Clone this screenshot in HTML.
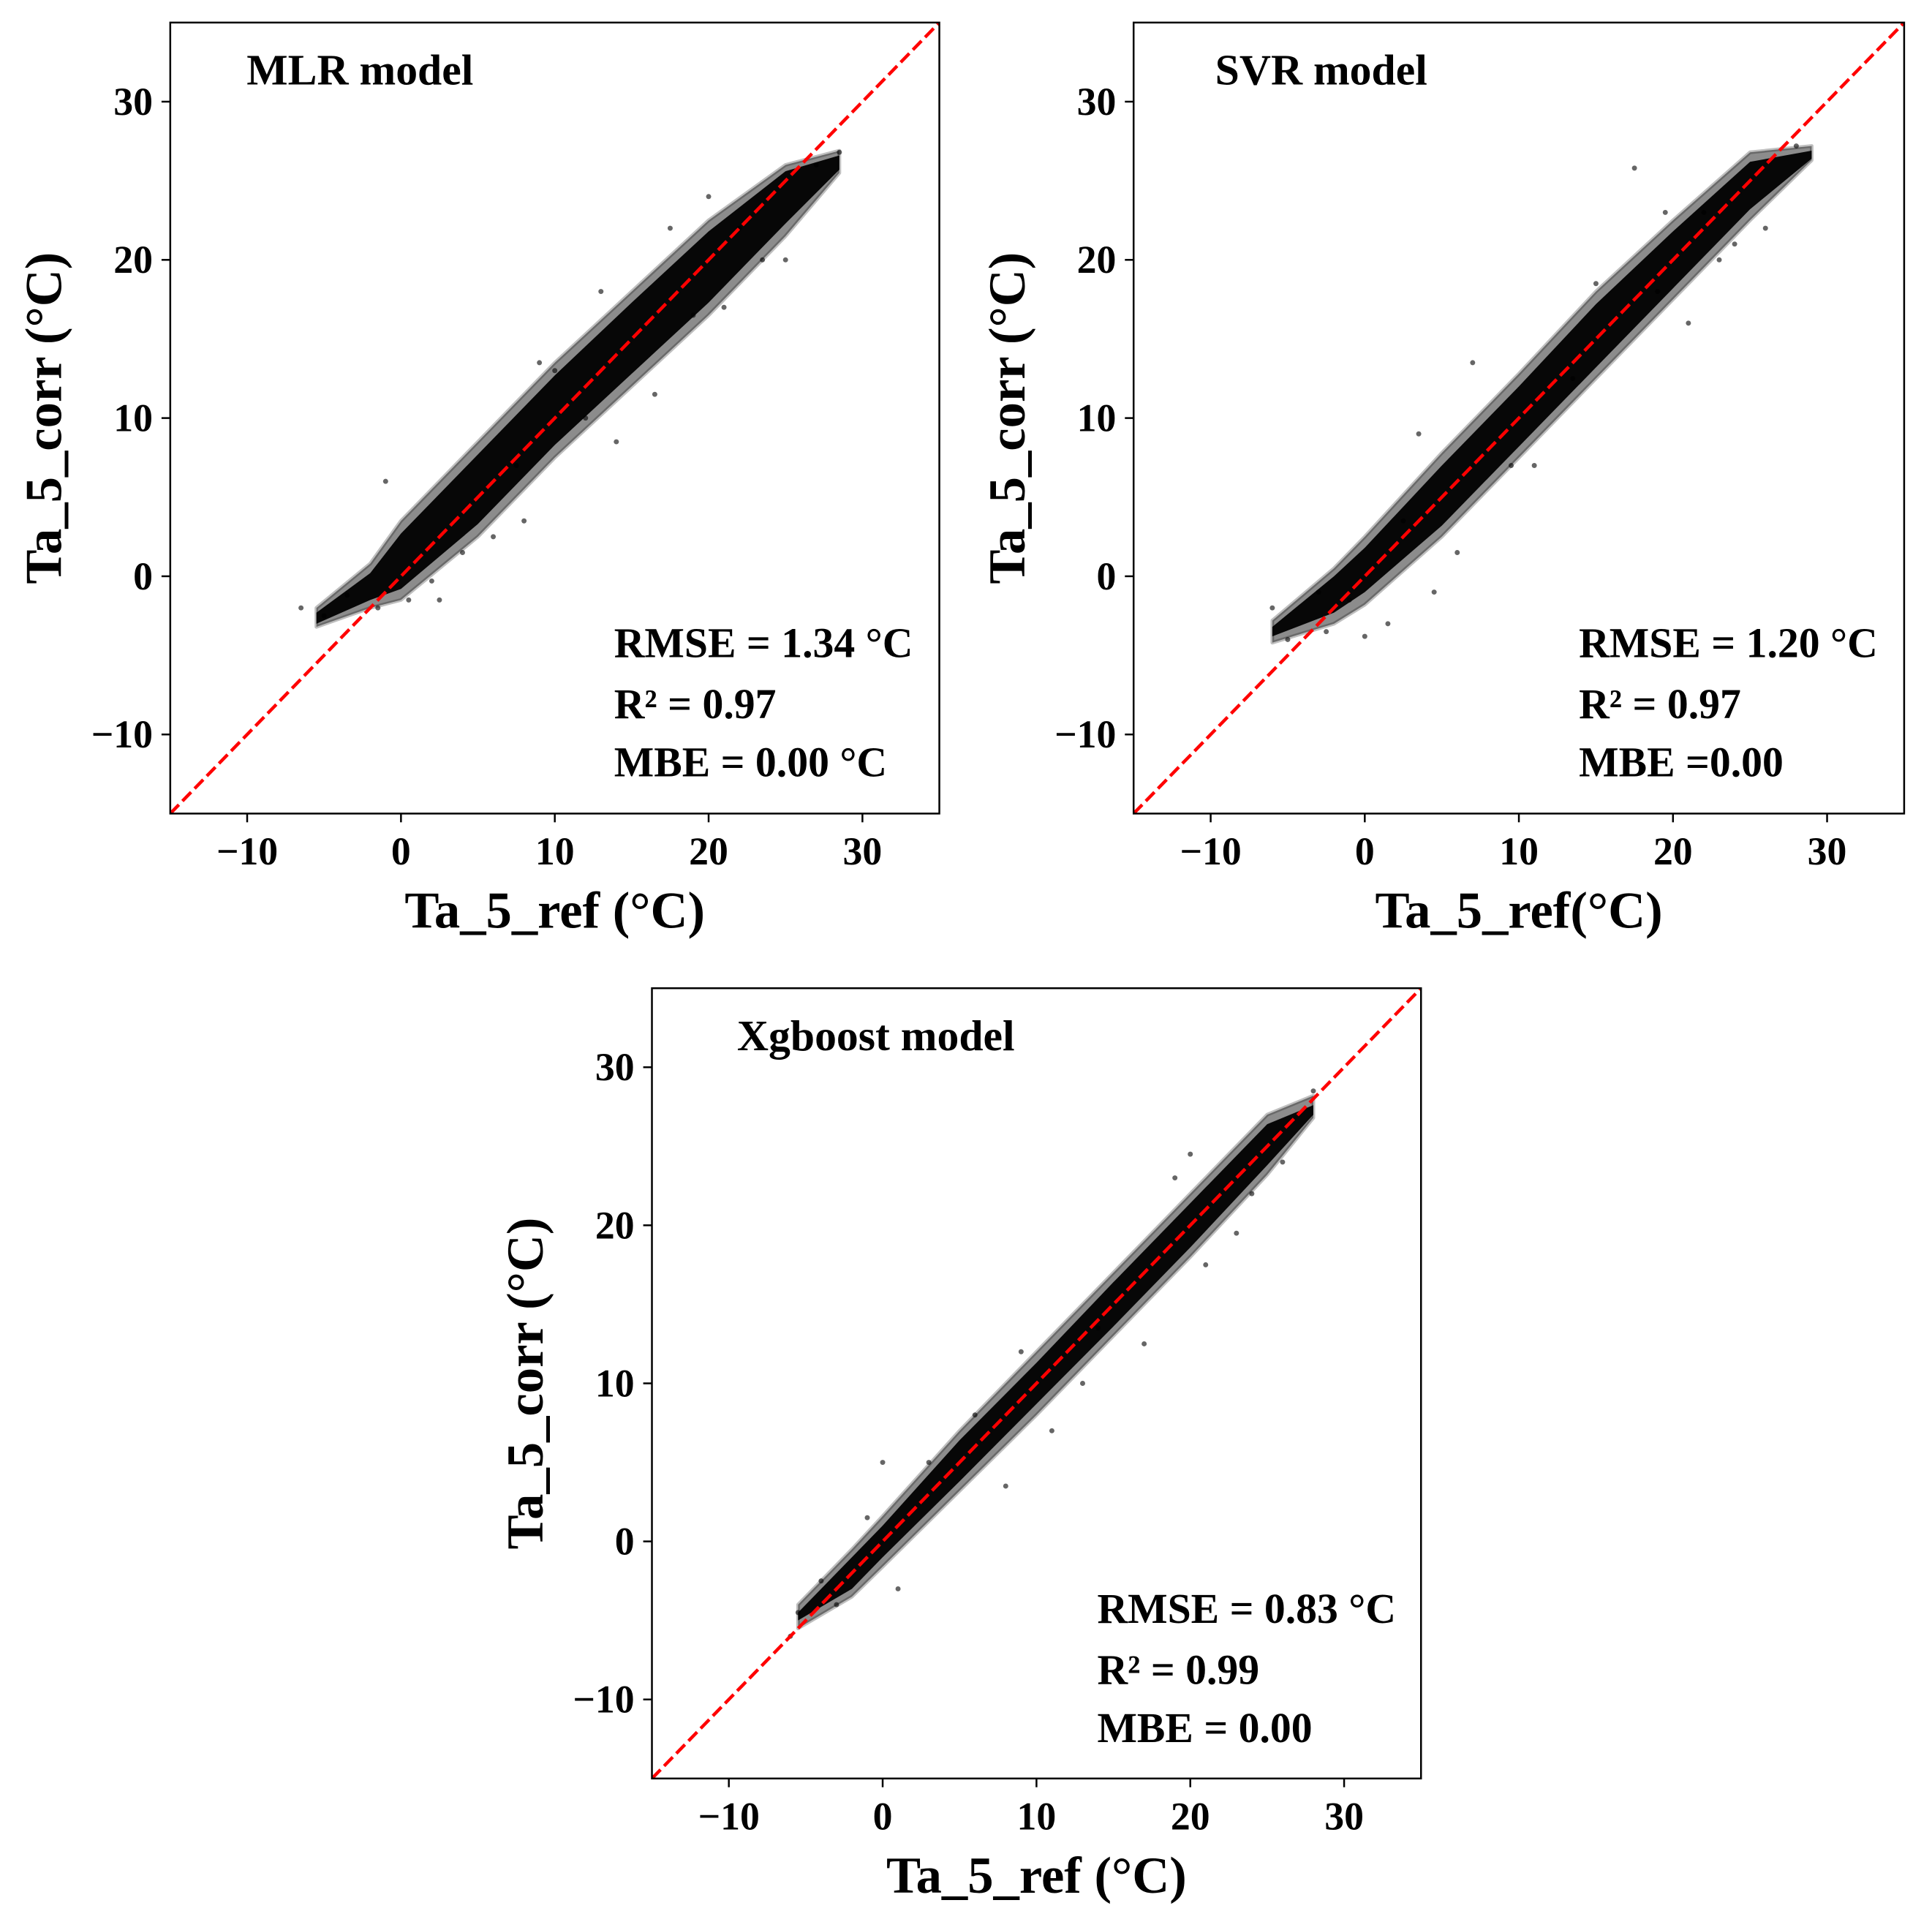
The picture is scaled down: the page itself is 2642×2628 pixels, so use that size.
<!DOCTYPE html>
<html><head><meta charset="utf-8"><style>
html,body{margin:0;padding:0;background:#fff}
svg{display:block}
text{font-family:"Liberation Serif",serif;font-weight:bold;fill:#000}
</style></head><body>
<svg id="fig" width="2642" height="2628" viewBox="0 0 2642 2628" xmlns="http://www.w3.org/2000/svg"><g id="root" transform="scale(0.995)"></g></svg>
<script>
// ---- data ----
const tickValues = [-10, 0, 10, 20, 30];
const tickLabels = ["\u221210", "0", "10", "20", "30"];
const modelNames = ["MLR model", "SVR model", "Xgboost model"];
const rmseLabels = ["RMSE = 1.34 \u00B0C", "RMSE = 1.20 \u00B0C", "RMSE = 0.83 \u00B0C"];
const r2Labels = ["R\u00B2 = 0.97", "R\u00B2 = 0.97", "R\u00B2 = 0.99"];
const mbeLabels = ["MBE = 0.00 \u00B0C", "MBE =0.00", "MBE = 0.00"];
const xTitles = ["Ta_5_ref (\u00B0C)", "Ta_5_ref(\u00B0C)", "Ta_5_ref (\u00B0C)"];
const yTitle = "Ta_5_corr (\u00B0C)";
// band envelopes (x ref, lower/upper corr), outer = sparse, inner = dense
const bandX = [[-5.5,-2,0,5,10,15,20,25,28.5],[-6,-2,0,5,10,15,20,25,29],[-5.5,-2,0,5,10,15,20,25,28]];
const outerLo = [[-3.2,-2,-1.5,2.5,7.5,12,16.5,21.5,25.5],[-4.2,-3,-1.8,2.5,7.5,12.5,17.5,22.5,26.3],[-5.5,-3.5,-1.6,3.2,8,13,18,23.2,26.8]];
const outerHi = [[-2,0.8,3.5,8.5,13.5,18,22.5,26,26.9],[-2.8,0.5,2.5,7.8,12.8,18,22.5,26.8,27.2],[-4,-0.5,1.6,7,12,17,22,27,28.2]];
const innerLo = [[-3,-1.5,-0.8,3.3,8.3,12.8,17.3,22.3,25.7],[-3.8,-2.3,-1,3.2,8.2,13.2,18.2,23.2,26.4],[-5,-3,-1,3.8,8.7,13.6,18.6,23.8,27]];
const innerHi = [[-2.3,0.2,2.7,7.7,12.7,17.3,21.8,25.6,26.6],[-3.2,0,1.8,7,12,17.2,21.8,26.2,26.9],[-4.5,-1,1,6.4,11.3,16.4,21.4,26.4,27.6]];
// scattered outlying points
const ptsX = [
 [-6.5,-5,-3.5,-1.5,-1,0.5,2,2.5,4,6,7.5,9,10,13,14,16.5,17.5,19,20,22,23.5,25,27,28.5,21,12,8],
 [-6,-5,-3,-2.5,-1,0,1.5,2.5,3.5,6,7,9.5,13.5,17.5,19,19.5,21,22,23,24,26,28,15,11,4.5],
 [-6,-5.5,-4,-3,-1,0,1,3,6,9,11,14,17,19,21,24,26,28,20,23,8,13]
];
const ptsY = [
 [-2,-2.5,-1.2,-2,6,-1.5,-0.3,-1.5,1.5,2.5,7,13.5,13,18,8.5,11.5,22,16.5,24,22,20,20,26,26.8,17,10,3.5],
 [-2,-4,-1,-3.5,-1.5,-3.8,-3,3.5,9,1.5,13.5,7,12.5,25.8,18,23,16,23,20,21,22,27.2,18.5,7,-1],
 [-6,-4.5,-2.5,-4,1.5,5,-3,5,8,12,7,13.5,12.5,23,17.5,22,24,28.5,24.5,19.5,3.5,10]
];
// ---- layout ----
const panels = [{l:234,t:31,r:1291,b:1118},{l:1558,t:31,r:2617,b:1118},{l:896,t:1358,r:1953,b:2444}];
const dMin=-15, dMax=35;
const NS="http://www.w3.org/2000/svg";
const svg=document.getElementById('root');
function el(tag,attrs,parent,txt){const e=document.createElementNS(NS,tag);for(const k in attrs)e.setAttribute(k,attrs[k]);if(txt!==undefined)e.textContent=txt;(parent||svg).appendChild(e);return e;}
panels.forEach((p,i)=>{
  const sx=v=>p.l+(v-dMin)/(dMax-dMin)*(p.r-p.l);
  const sy=v=>p.b-(v-dMin)/(dMax-dMin)*(p.b-p.t);
  const g=el('g',{});
  
  
  const cid='clip'+i;
  const cp=el('clipPath',{id:cid},g);el('rect',{x:p.l,y:p.t,width:p.r-p.l,height:p.b-p.t},cp);
  const plot=el('g',{'clip-path':'url(#'+cid+')'},g);
  const poly=(lo,hi)=>{const xs=bandX[i];let pts=[];xs.forEach((x,k)=>pts.push(sx(x)+','+sy(lo[i][k])));for(let k=xs.length-1;k>=0;k--)pts.push(sx(xs[k])+','+sy(hi[i][k]));return pts.join(' ');};
  const ob=el('polygon',{points:poly(outerLo,outerHi),fill:'#000','fill-opacity':0.45,stroke:'#000','stroke-opacity':0.25,'stroke-width':5,'stroke-linejoin':'round'},plot);
  
  
  const ib=el('polygon',{points:poly(innerLo,innerHi),fill:'#000','fill-opacity':0.95},plot);
  
  
  ptsX[i].forEach((x,k)=>{const c=el('circle',{cx:sx(x),cy:sy(ptsY[i][k]),r:3.5,fill:'#000','fill-opacity':0.6},plot);
    
    });
  const ln=el('line',{x1:sx(dMin),y1:sy(dMin),x2:sx(dMax),y2:sy(dMax),stroke:'#ff0000','stroke-width':4.5,'stroke-dasharray':'17,7'},plot);
  
  
  const fr=el('rect',{x:p.l,y:p.t,width:p.r-p.l,height:p.b-p.t,fill:'none',stroke:'#000','stroke-width':2.5},g);
  
  
  tickValues.forEach((v,k)=>{
    el('line',{x1:sx(v),y1:p.b,x2:sx(v),y2:p.b+12,stroke:'#000','stroke-width':2.5},g);
    const tx=el('text',{x:sx(v),y:p.b+70,'text-anchor':'middle','font-size':54},g,tickLabels[k]);
    
    
    el('line',{x1:p.l-12,y1:sy(v),x2:p.l,y2:sy(v),stroke:'#000','stroke-width':2.5},g);
    const ty=el('text',{x:p.l-24,y:sy(v)+18,'text-anchor':'end','font-size':54},g,tickLabels[k]);
    
    
  });
  const xt=el('text',{x:(p.l+p.r)/2,y:p.b+157,'text-anchor':'middle','font-size':71},g,xTitles[i]);
  
  
  const yx=p.l-175, yc=(p.t+p.b)/2;
  const yt=el('text',{x:yx,y:yc,'text-anchor':'middle','font-size':71,transform:'rotate(-90 '+yx+' '+yc+')',dy:'0.35em'},g,yTitle);
  
  
  const mt=el('text',{x:p.l+(i==1?112:i==2?117:105),y:p.t+85,'font-size':60},g,modelNames[i]);
  
  
  const stx=p.l+(i==1?612:i==2?612:610);
  const s1=el('text',{x:stx,y:p.t+872,'font-size':58},g,rmseLabels[i]);
  
  
  const s2=el('text',{x:stx,y:p.t+956,'font-size':58},g,r2Labels[i]);
  
  
  const s3=el('text',{x:stx,y:p.t+1036,'font-size':58},g,mbeLabels[i]);
  
  
});
</script>
</body></html>
